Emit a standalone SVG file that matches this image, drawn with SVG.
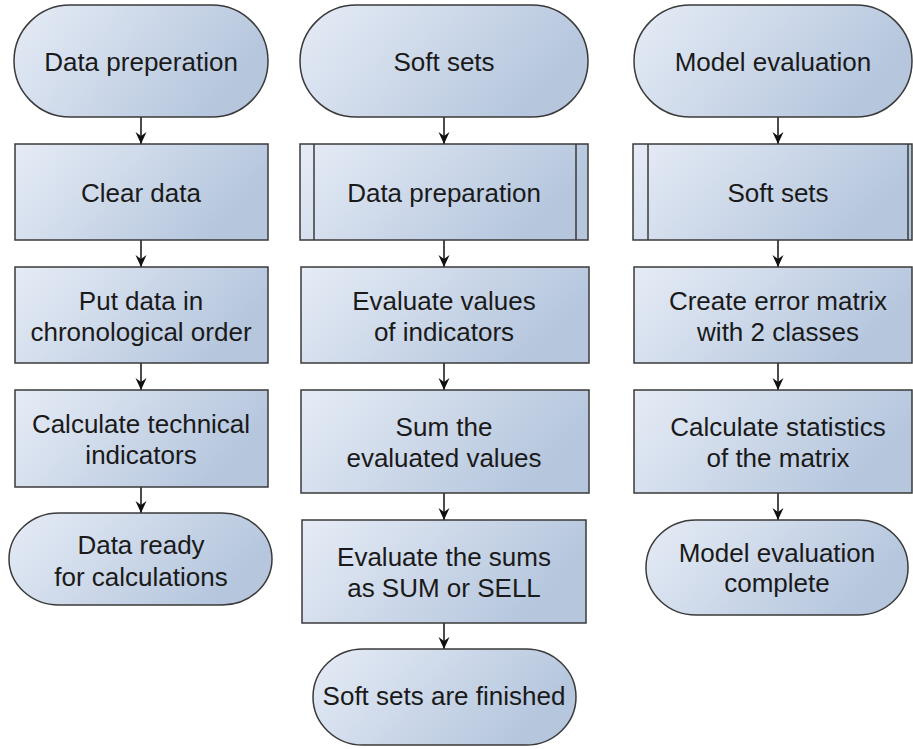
<svg xmlns="http://www.w3.org/2000/svg" width="913" height="749" viewBox="0 0 913 749">
<defs>
<linearGradient id="g" x1="0" y1="0" x2="1" y2="0.35">
<stop offset="0" stop-color="#e6ecf6"/>
<stop offset="1" stop-color="#b5c6dd"/>
</linearGradient>
<marker id="ah" markerWidth="14" markerHeight="12" refX="13" refY="6" orient="auto" markerUnits="userSpaceOnUse" viewBox="0 0 14 12">
<path d="M1,0.5 L13,6 L1,11.5 L5,6 Z" fill="#111"/>
</marker>
</defs>
<style>
.s{fill:url(#g);stroke:#3a3a3a;stroke-width:1.5}
.l{fill:none;stroke:#3a3a3a;stroke-width:1.5}
.t{font-family:"Liberation Sans",Arial,sans-serif;font-size:26px;fill:#1a1a1a;text-anchor:middle}
.c{stroke:#111;stroke-width:1.5;fill:none;marker-end:url(#ah)}
</style>
<rect width="913" height="749" fill="#ffffff"/>

<g id="connectors">
<line class="c" x1="141" y1="117" x2="141" y2="144"/>
<line class="c" x1="141" y1="240" x2="141" y2="267"/>
<line class="c" x1="141" y1="363" x2="141" y2="390"/>
<line class="c" x1="141" y1="487" x2="141" y2="513"/>
<line class="c" x1="444" y1="117" x2="444" y2="144"/>
<line class="c" x1="444" y1="240" x2="444" y2="267"/>
<line class="c" x1="444" y1="363" x2="444" y2="390"/>
<line class="c" x1="444" y1="493" x2="444" y2="520"/>
<line class="c" x1="444" y1="623" x2="444" y2="649"/>
<line class="c" x1="778" y1="117" x2="778" y2="144"/>
<line class="c" x1="778" y1="240" x2="778" y2="267"/>
<line class="c" x1="778" y1="363" x2="778" y2="390"/>
<line class="c" x1="778" y1="493" x2="778" y2="520"/>
</g>

<g id="c1-start"><rect class="s" x="14" y="5" width="254" height="112" rx="56" ry="56"/><text class="t" x="141" y="71">Data preperation</text></g>
<g id="c1-clear"><rect class="s" x="15" y="144" width="253" height="96"/><text class="t" x="141" y="202">Clear data</text></g>
<g id="c1-order"><rect class="s" x="15" y="267" width="253" height="96"/><text class="t" x="141" y="310">Put data in</text><text class="t" x="141" y="341">chronological order</text></g>
<g id="c1-calc"><rect class="s" x="15" y="390" width="253" height="97"/><text class="t" x="141" y="433">Calculate technical</text><text class="t" x="141" y="464">indicators</text></g>
<g id="c1-end"><rect class="s" x="9" y="513" width="263" height="92" rx="50" ry="46"/><text class="t" x="141" y="554">Data ready</text><text class="t" x="141" y="586">for calculations</text></g>

<g id="c2-start"><rect class="s" x="300" y="5" width="288" height="112" rx="56" ry="56"/><text class="t" x="444" y="71">Soft sets</text></g>
<g id="c2-prep"><rect class="s" x="300" y="144" width="288" height="96"/><line class="l" x1="314" y1="144" x2="314" y2="240"/><line class="l" x1="576" y1="144" x2="576" y2="240"/><text class="t" x="444" y="202">Data preparation</text></g>
<g id="c2-eval"><rect class="s" x="301" y="267" width="288" height="96"/><text class="t" x="444" y="310">Evaluate values</text><text class="t" x="444" y="341">of indicators</text></g>
<g id="c2-sum"><rect class="s" x="301" y="390" width="288" height="103"/><text class="t" x="444" y="436">Sum the</text><text class="t" x="444" y="467">evaluated values</text></g>
<g id="c2-sums"><rect class="s" x="302" y="520" width="284" height="103"/><text class="t" x="444" y="566">Evaluate the sums</text><text class="t" x="444" y="597">as SUM or SELL</text></g>
<g id="c2-end"><rect class="s" x="313" y="649" width="263" height="96" rx="50" ry="48"/><text class="t" x="444" y="705">Soft sets are finished</text></g>

<g id="c3-start"><rect class="s" x="634" y="5" width="278" height="112" rx="56" ry="56"/><text class="t" x="773" y="71">Model evaluation</text></g>
<g id="c3-soft"><rect class="s" x="633" y="144" width="279" height="96"/><line class="l" x1="648" y1="144" x2="648" y2="240"/><line class="l" x1="908" y1="144" x2="908" y2="240"/><text class="t" x="778" y="202">Soft sets</text></g>
<g id="c3-matrix"><rect class="s" x="634" y="267" width="278" height="96"/><text class="t" x="778" y="310">Create error matrix</text><text class="t" x="778" y="341">with 2 classes</text></g>
<g id="c3-stats"><rect class="s" x="634" y="390" width="278" height="103"/><text class="t" x="778" y="436">Calculate statistics</text><text class="t" x="778" y="467">of the matrix</text></g>
<g id="c3-end"><rect class="s" x="646" y="520" width="262" height="95" rx="50" ry="47"/><text class="t" x="777" y="562">Model evaluation</text><text class="t" x="777" y="592">complete</text></g>
</svg>
